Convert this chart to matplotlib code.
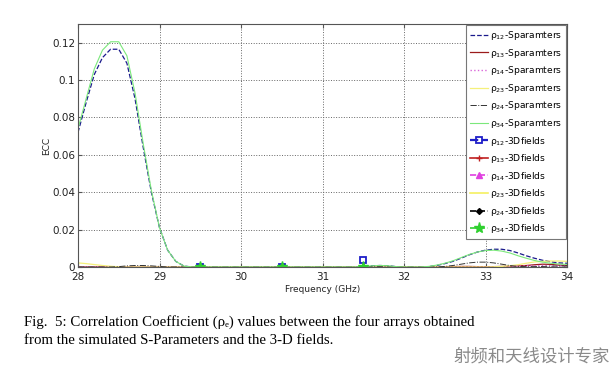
import numpy as np
import matplotlib
matplotlib.use("Agg")
import matplotlib.pyplot as plt
from matplotlib.lines import Line2D

# ---------------- data ----------------
freq = np.round(np.arange(28.0, 34.0001, 0.1), 1)

rho12_s = [0.072, 0.088, 0.103, 0.112, 0.1165, 0.1165, 0.109, 0.090, 0.064, 0.040,
           0.021, 0.009, 0.003, 0.0005, 0, 0, 0, 0, 0, 0,
           0, 0, 0, 0, 0, 0, 0, 0, 0, 0,
           0, 0, 0, 0, 0, 0.0003, 0.0006, 0.0008, 0.0007, 0.0002,
           0, 0, 0, 0.0002, 0.0008, 0.0018, 0.003, 0.0047, 0.0065, 0.008,
           0.009, 0.0095, 0.0095, 0.0088, 0.0075, 0.006, 0.0047, 0.0036, 0.0028, 0.0022,
           0.002]
rho13_s = [0, 0, 0, 0, 0, 0, 0, 0, 0, 0,
           0, 0, 0, 0, 0, 0, 0, 0, 0, 0,
           0, 0, 0, 0, 0, 0, 0, 0, 0, 0,
           0, 0, 0, 0, 0, 0, 0, 0, 0, 0,
           0, 0, 0, 0, 0, 0.0001, 0.0002, 0.0003, 0.0003, 0.0002,
           0.0002, 0.0002, 0.0003, 0.0004, 0.0006, 0.0008, 0.0012, 0.0015, 0.0014, 0.001,
           0.0008]
rho14_s = [0, 0, 0, 0, 0, 0, 0, 0, 0, 0,
           0, 0, 0, 0, 0, 0, 0, 0, 0, 0,
           0, 0, 0, 0, 0, 0, 0, 0, 0, 0,
           0, 0, 0, 0, 0, 0, 0, 0, 0, 0,
           0, 0, 0, 0, 0, 0, 0, 0, 0, 0,
           0.0001, 0.0001, 0.0002, 0.0003, 0.0005, 0.0006, 0.0007, 0.0008, 0.0007, 0.0005,
           0.0004]
rho23_s = [0.0022, 0.0018, 0.0013, 0.0008, 0.0004, 0.0001, 0, 0, 0, 0,
           0, 0, 0, 0, 0, 0, 0, 0, 0, 0,
           0, 0, 0, 0, 0, 0, 0, 0, 0, 0,
           0, 0, 0, 0, 0, 0, 0, 0, 0, 0,
           0, 0, 0, 0, 0, 0, 0, 0, 0, 0,
           0, 0.0001, 0.0003, 0.0007, 0.0012, 0.002, 0.0027, 0.003, 0.0032, 0.0032,
           0.003]
rho24_s = [0, 0, 0, 0, 0, 0.0002, 0.0006, 0.0008, 0.0008, 0.0006,
           0.0003, 0, 0, 0, 0, 0, 0, 0, 0, 0,
           0, 0, 0, 0, 0, 0, 0, 0, 0, 0,
           0, 0, 0, 0, 0, 0.0001, 0.0002, 0.0002, 0.0001, 0,
           0, 0, 0, 0, 0, 0.0003, 0.0008, 0.0015, 0.0022, 0.0026,
           0.0026, 0.0022, 0.0015, 0.0008, 0.0003, 0.0002, 0.0002, 0.0003, 0.0004, 0.0005,
           0.0005]
rho34_s = [0.074, 0.090, 0.106, 0.116, 0.1205, 0.1205, 0.113, 0.093, 0.066, 0.041,
           0.021, 0.009, 0.003, 0.0005, 0, 0, 0, 0, 0, 0,
           0, 0, 0, 0, 0, 0, 0, 0, 0, 0,
           0, 0, 0, 0, 0, 0.0003, 0.0006, 0.0008, 0.0007, 0.0002,
           0, 0, 0, 0.0003, 0.001, 0.002, 0.0033, 0.005, 0.0067, 0.008,
           0.0088, 0.009, 0.0085, 0.0075, 0.006, 0.0047, 0.0035, 0.0026, 0.002, 0.0016,
           0.0014]

freq_3d = [29.5, 30.5, 31.5]
rho12_3d = [0.0, 0.0, 0.0035]
rho13_3d = [0.0, 0.0, 0.0]
rho14_3d = [0.0005, 0.0, 0.0]
rho23_3d = [0.0, 0.0, 0.0]
rho24_3d = [0.0, 0.0, 0.0002]
rho34_3d = [0.0, 0.0, 0.0002]

x_ticks = [28, 29, 30, 31, 32, 33, 34]
y_ticks = [0, 0.02, 0.04, 0.06, 0.08, 0.1, 0.12]
y_ticklabels = ["0", "0.02", "0.04", "0.06", "0.08", "0.1", "0.12"]

# ---------------- figure ----------------
fig = plt.figure(figsize=(6.12, 3.67), dpi=100)
ax = fig.add_axes([78/612, 1-267/367, (567-78)/612, (267-24)/367])

s_styles = [
    (rho12_s, dict(ls='--', color='#1a1a8c', lw=0.9), '\u03c1$_{12}$-Sparamters'),
    (rho13_s, dict(ls='-', color='#9b1b1b', lw=0.9), '\u03c1$_{13}$-Sparamters'),
    (rho14_s, dict(ls=':', color='#d966d9', lw=1.0), '\u03c1$_{14}$-Sparamters'),
    (rho23_s, dict(ls='-', color='#f5f07a', lw=0.9), '\u03c1$_{23}$-Sparamters'),
    (rho24_s, dict(ls='-.', color='#333333', lw=0.7), '\u03c1$_{24}$-Sparamters'),
    (rho34_s, dict(ls='-', color='#7be87b', lw=0.8), '\u03c1$_{34}$-Sparamters'),
]
d_styles = [
    (rho12_3d, dict(ls='--', color='#1f1fc8', lw=1.6, marker='s', ms=4, mfc='none', mew=1.3),
     '\u03c1$_{12}$-3Dfields'),
    (rho13_3d, dict(ls='-', color='#c02020', lw=1.2, marker='+', ms=4), '\u03c1$_{13}$-3Dfields'),
    (rho14_3d, dict(ls='--', color='#e040e0', lw=1.2, marker='^', ms=4), '\u03c1$_{14}$-3Dfields'),
    (rho23_3d, dict(ls='-', color='#f5f060', lw=1.2, marker='None'), '\u03c1$_{23}$-3Dfields'),
    (rho24_3d, dict(ls='--', color='black', lw=1.2, marker='D', ms=3), '\u03c1$_{24}$-3Dfields'),
    (rho34_3d, dict(ls='--', color='#30d030', lw=1.2, marker='*', ms=8), '\u03c1$_{34}$-3Dfields'),
]

handles, labels = [], []
for vals, st, lab in s_styles:
    h, = ax.plot(freq, vals, **st)
    handles.append(h)
    labels.append(lab)
for vals, st, lab in d_styles:
    mst = {k: v for k, v in st.items() if k not in ('ls', 'lw')}
    ax.plot(freq_3d, vals, ls='none', **mst)
    handles.append(Line2D([], [], **st))
    labels.append(lab)

ax.set_xlim(28, 34)
ax.set_ylim(0, 0.13)
ax.set_xticks(x_ticks)
ax.set_xticklabels([str(t) for t in x_ticks])
ax.set_yticks(y_ticks)
ax.set_yticklabels(y_ticklabels)
ax.tick_params(direction='in', top=True, right=True, labelsize=7.5, length=3,
               color='#555555', labelcolor='#222222', pad=2)
ax.tick_params(axis='x', pad=3.5)
ax.grid(True, ls=':', color='#666666', lw=0.7)
for s in ax.spines.values():
    s.set_color('#555555')
    s.set_linewidth(0.8)

ax.set_xlabel('Frequency (GHz)', fontsize=6.5, labelpad=2, color='#222222')
ax.set_ylabel('ECC', fontsize=6.5, labelpad=1, color='#222222')

leg = ax.legend(handles, labels, loc='upper right', fontsize=6.6, frameon=True,
                fancybox=False, edgecolor='#777777', framealpha=1, handlelength=2.0,
                handletextpad=0.2, labelspacing=0.5, borderpad=0.4,
                borderaxespad=0.15)
leg.get_frame().set_linewidth(0.8)

# caption
fig.text(24/612, 1-322/367,
         'Fig.  5: Correlation Coefficient (\u03c1\u2091) values between the four arrays obtained',
         family=['Liberation Serif', 'DejaVu Serif'], fontsize=10.7, va='center', ha='left')
fig.text(24/612, 1-340/367,
         'from the simulated S-Parameters and the 3-D fields.',
         family=['Liberation Serif', 'DejaVu Serif'], fontsize=10.7, va='center', ha='left')
fig.text(610/612, 1-357/367, '射频和天线设计专家', family=['Noto Sans CJK SC', 'DejaVu Sans'],
         fontsize=12.5, color='#8a8a8a', va='center', ha='right')

fig.savefig('out.png', dpi=100)
